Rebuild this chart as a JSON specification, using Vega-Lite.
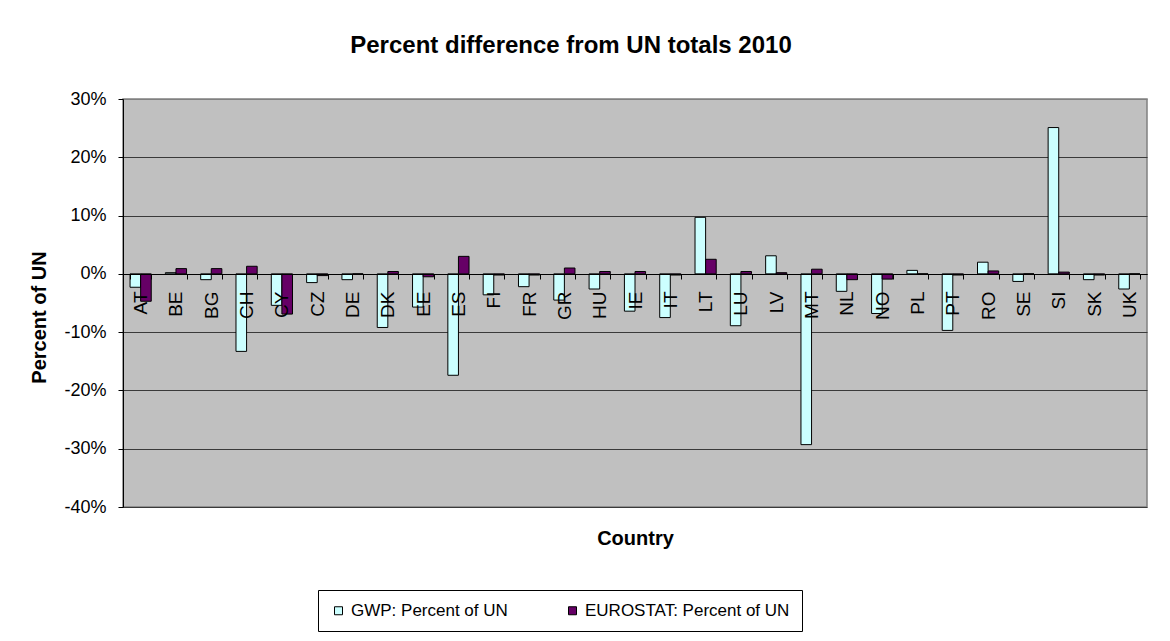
{
  "$schema": "https://vega.github.io/schema/vega-lite/v6.json",
  "autosize": {"type": "none"},
  "padding": {"left": 123, "top": 99, "right": 23, "bottom": 134},
  "width": 1024,
  "height": 408,
  "background": "white",
  "title": {
    "text": "Percent difference from UN totals 2010",
    "font": "Liberation Sans, Arial, sans-serif",
    "fontSize": 24,
    "fontWeight": "bold",
    "color": "black",
    "anchor": "middle",
    "baseline": "alphabetic",
    "offset": 47,
    "dx": -64,
    "dy": 34
  },
  "data": {
    "values": [
      {"country": "AT", "series": "GWP: Percent of UN", "value": -0.023},
      {"country": "AT", "series": "EUROSTAT: Percent of UN", "value": -0.047},
      {"country": "BE", "series": "GWP: Percent of UN", "value": 0.002},
      {"country": "BE", "series": "EUROSTAT: Percent of UN", "value": 0.009},
      {"country": "BG", "series": "GWP: Percent of UN", "value": -0.010},
      {"country": "BG", "series": "EUROSTAT: Percent of UN", "value": 0.009},
      {"country": "CH", "series": "GWP: Percent of UN", "value": -0.133},
      {"country": "CH", "series": "EUROSTAT: Percent of UN", "value": 0.013},
      {"country": "CY", "series": "GWP: Percent of UN", "value": -0.054},
      {"country": "CY", "series": "EUROSTAT: Percent of UN", "value": -0.069},
      {"country": "CZ", "series": "GWP: Percent of UN", "value": -0.015},
      {"country": "CZ", "series": "EUROSTAT: Percent of UN", "value": -0.003},
      {"country": "DE", "series": "GWP: Percent of UN", "value": -0.010},
      {"country": "DE", "series": "EUROSTAT: Percent of UN", "value": 0.000},
      {"country": "DK", "series": "GWP: Percent of UN", "value": -0.092},
      {"country": "DK", "series": "EUROSTAT: Percent of UN", "value": 0.004},
      {"country": "EE", "series": "GWP: Percent of UN", "value": -0.057},
      {"country": "EE", "series": "EUROSTAT: Percent of UN", "value": -0.005},
      {"country": "ES", "series": "GWP: Percent of UN", "value": -0.174},
      {"country": "ES", "series": "EUROSTAT: Percent of UN", "value": 0.030},
      {"country": "FI", "series": "GWP: Percent of UN", "value": -0.036},
      {"country": "FI", "series": "EUROSTAT: Percent of UN", "value": -0.002},
      {"country": "FR", "series": "GWP: Percent of UN", "value": -0.022},
      {"country": "FR", "series": "EUROSTAT: Percent of UN", "value": -0.002},
      {"country": "GR", "series": "GWP: Percent of UN", "value": -0.045},
      {"country": "GR", "series": "EUROSTAT: Percent of UN", "value": 0.010},
      {"country": "HU", "series": "GWP: Percent of UN", "value": -0.026},
      {"country": "HU", "series": "EUROSTAT: Percent of UN", "value": 0.004},
      {"country": "IE", "series": "GWP: Percent of UN", "value": -0.064},
      {"country": "IE", "series": "EUROSTAT: Percent of UN", "value": 0.004},
      {"country": "IT", "series": "GWP: Percent of UN", "value": -0.075},
      {"country": "IT", "series": "EUROSTAT: Percent of UN", "value": -0.002},
      {"country": "LT", "series": "GWP: Percent of UN", "value": 0.097},
      {"country": "LT", "series": "EUROSTAT: Percent of UN", "value": 0.025},
      {"country": "LU", "series": "GWP: Percent of UN", "value": -0.089},
      {"country": "LU", "series": "EUROSTAT: Percent of UN", "value": 0.004},
      {"country": "LV", "series": "GWP: Percent of UN", "value": 0.031},
      {"country": "LV", "series": "EUROSTAT: Percent of UN", "value": 0.002},
      {"country": "MT", "series": "GWP: Percent of UN", "value": -0.293},
      {"country": "MT", "series": "EUROSTAT: Percent of UN", "value": 0.008},
      {"country": "NL", "series": "GWP: Percent of UN", "value": -0.030},
      {"country": "NL", "series": "EUROSTAT: Percent of UN", "value": -0.010},
      {"country": "NO", "series": "GWP: Percent of UN", "value": -0.068},
      {"country": "NO", "series": "EUROSTAT: Percent of UN", "value": -0.009},
      {"country": "PL", "series": "GWP: Percent of UN", "value": 0.006},
      {"country": "PL", "series": "EUROSTAT: Percent of UN", "value": 0.000},
      {"country": "PT", "series": "GWP: Percent of UN", "value": -0.097},
      {"country": "PT", "series": "EUROSTAT: Percent of UN", "value": -0.002},
      {"country": "RO", "series": "GWP: Percent of UN", "value": 0.020},
      {"country": "RO", "series": "EUROSTAT: Percent of UN", "value": 0.005},
      {"country": "SE", "series": "GWP: Percent of UN", "value": -0.013},
      {"country": "SE", "series": "EUROSTAT: Percent of UN", "value": 0.000},
      {"country": "SI", "series": "GWP: Percent of UN", "value": 0.251},
      {"country": "SI", "series": "EUROSTAT: Percent of UN", "value": 0.003},
      {"country": "SK", "series": "GWP: Percent of UN", "value": -0.010},
      {"country": "SK", "series": "EUROSTAT: Percent of UN", "value": -0.002},
      {"country": "UK", "series": "GWP: Percent of UN", "value": -0.026},
      {"country": "UK", "series": "EUROSTAT: Percent of UN", "value": 0.000}
    ]
  },
  "mark": {"type": "bar", "stroke": "black", "strokeWidth": 1},
  "encoding": {
    "x": {
      "field": "country",
      "type": "nominal",
      "sort": null,
      "scale": {"paddingInner": 0.4, "paddingOuter": 0.2},
      "axis": {
        "zindex": 1,
        "title": "Country",
        "titleFont": "Liberation Sans, Arial, sans-serif",
        "titleFontSize": 20,
        "titleFontWeight": "bold",
        "titleColor": "black",
        "titleX": 512,
        "titleY": 264,
        "titleBaseline": "middle",
        "titleAlign": "center",
        "offset": -233,
        "domainColor": "black",
        "domainWidth": 1,
        "tickBand": "extent",
        "tickColor": "black",
        "tickSize": 5,
        "labelAngle": 270,
        "labelAlign": "right",
        "labelBaseline": "middle",
        "labelPadding": 12,
        "labelFont": "Liberation Sans, Arial, sans-serif",
        "labelFontSize": 19,
        "labelColor": "black",
        "labelOverlap": false,
        "grid": false
      }
    },
    "xOffset": {
      "field": "series",
      "type": "nominal",
      "sort": ["GWP: Percent of UN", "EUROSTAT: Percent of UN"]
    },
    "y": {
      "field": "value",
      "type": "quantitative",
      "scale": {"domain": [-0.4, 0.3], "nice": false, "zero": true},
      "axis": {
        "title": "Percent of UN",
        "titleFont": "Liberation Sans, Arial, sans-serif",
        "titleFontSize": 20,
        "titleFontWeight": "bold",
        "titleColor": "black",
        "titleAngle": 270,
        "titleX": -84,
        "titleY": 218,
        "titleAlign": "center",
        "titleBaseline": "middle",
        "values": [-0.4, -0.3, -0.2, -0.1, 0, 0.1, 0.2, 0.3],
        "format": ".0%",
        "labelExpr": "replace(datum.label, '\u2212', '-')",
        "labelFont": "Liberation Sans, Arial, sans-serif",
        "labelFontSize": 18,
        "labelColor": "black",
        "labelPadding": 12,
        "tickSize": 5,
        "tickColor": "black",
        "domainColor": "black",
        "grid": true,
        "gridColor": {"condition": {"test": "datum.value >= 0.3", "value": "#808080"}, "value": "#3a3a3a"},
        "gridWidth": 1
      }
    },
    "color": {
      "field": "series",
      "type": "nominal",
      "sort": ["GWP: Percent of UN", "EUROSTAT: Percent of UN"],
      "scale": {"range": ["#CCFFFF", "#660066"]},
      "legend": {
        "title": null,
        "orient": "none",
        "legendX": 195,
        "legendY": 491,
        "direction": "horizontal",
        "columns": 2,
        "columnPadding": 56,
        "symbolType": "square",
        "symbolSize": 64,
        "symbolStrokeColor": "black",
        "symbolStrokeWidth": 1,
        "labelFont": "Liberation Sans, Arial, sans-serif",
        "labelFontSize": 17,
        "labelColor": "black",
        "labelOffset": 4,
        "labelLimit": 400,
        "padding": 12,
        "strokeColor": "black",
        "fillColor": "white"
      }
    }
  },
  "config": {
    "view": {"fill": "#C0C0C0", "stroke": "#808080", "strokeWidth": 1.5}
  }
}
